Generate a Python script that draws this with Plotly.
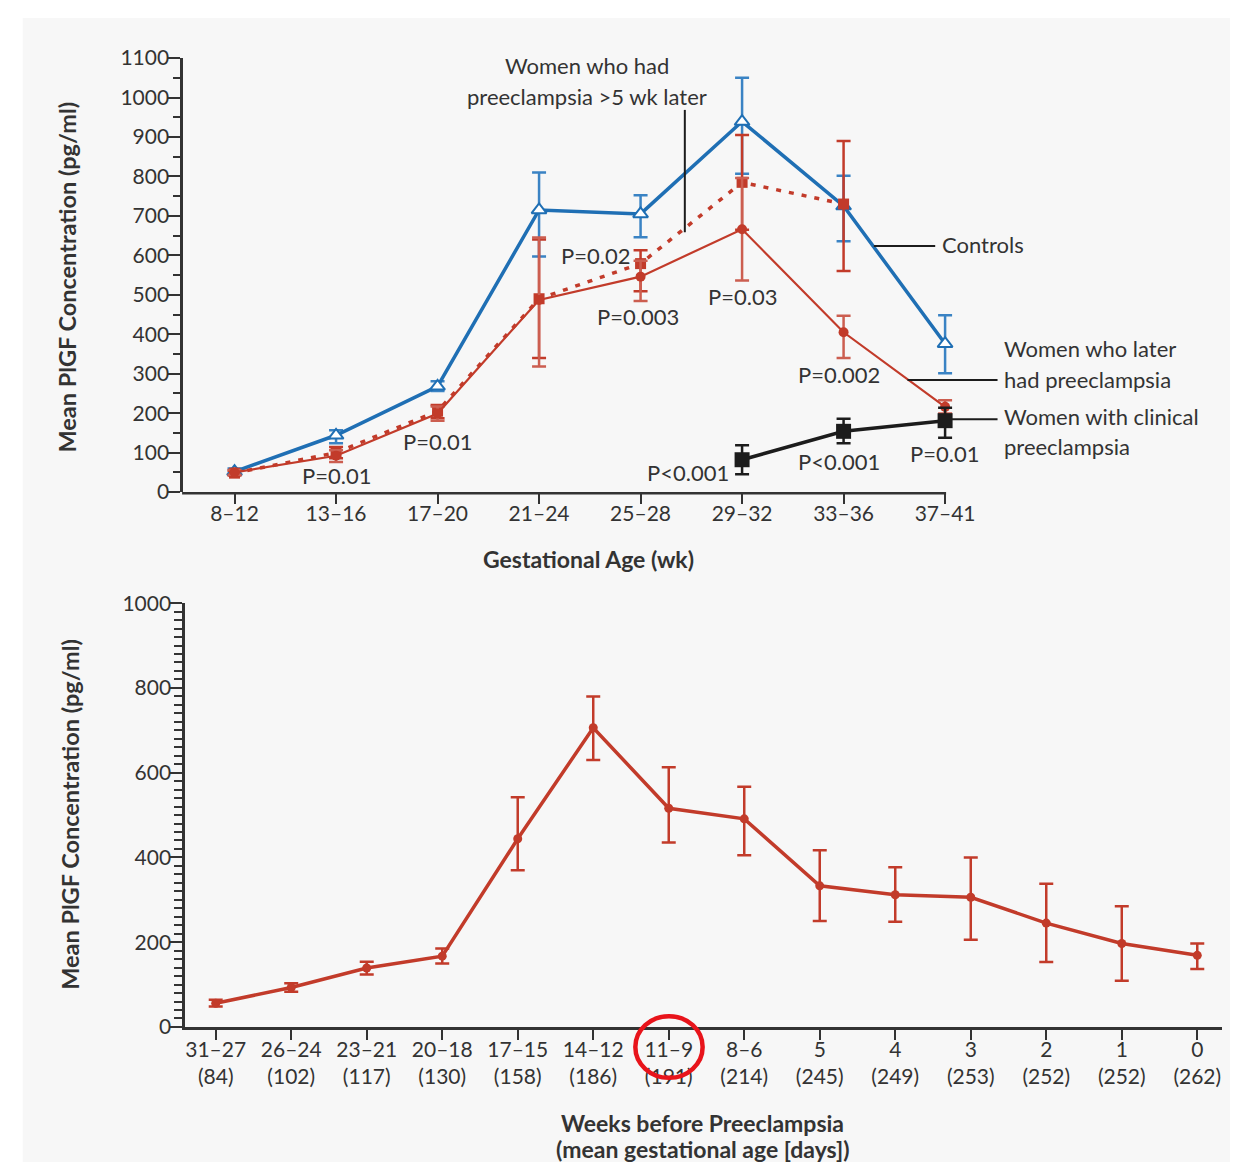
import plotly.graph_objects as go

W, H = 1253, 1173

# ---------------- upper panel: PlGF by gestational-age window ----------------
ga_windows = ["8–12", "13–16", "17–20", "21–24", "25–28", "29–32", "33–36", "37–41"]

controls_mean = [52, 144, 268, 715, 705, 939, 725, 376]
controls_err_hi = [8, 13, 13, 95, 47, 111, 77, 72]
controls_err_lo = [8, 20, 12, 118, 59, 132, 89, 75]

later_pe_mean = [50, 92, 199, 487, 546, 666, 405, 216]
later_pe_err_hi = [6, 14, 18, 158, 40, 130, 42, 17]
later_pe_err_lo = [6, 16, 18, 169, 62, 130, 65, 17]

pe_5wk_mean = [48, 100, 205, 490, 579, 785, 730]
pe_5wk_err_hi = [6, 14, 16, 150, 34, 120, 160]
pe_5wk_err_lo = [6, 14, 18, 150, 70, 120, 170]

clinical_pe_x = ["29–32", "33–36", "37–41"]
clinical_pe_mean = [82, 154, 181]
clinical_pe_err_hi = [37, 32, 33]
clinical_pe_err_lo = [37, 30, 43]

# ---------------- lower panel: PlGF by weeks before preeclampsia ----------------
weeks_before = ["31–27", "26–24", "23–21", "20–18", "17–15", "14–12", "11–9",
                "8–6", "5", "4", "3", "2", "1", "0"]
mean_ga_days = [84, 102, 117, 130, 158, 186, 191, 214, 245, 249, 253, 252, 252, 262]
weeks_mean = [56, 93, 139, 167, 444, 706, 516, 491, 333, 312, 306, 245, 197, 169]
weeks_err_hi = [8, 10, 15, 18, 98, 74, 97, 76, 84, 65, 94, 93, 88, 28]
weeks_err_lo = [8, 10, 15, 17, 74, 76, 81, 86, 83, 64, 100, 92, 88, 32]

BLUE = "#1f6fb4"
RED = "#c23b2a"
BLACK = "#1c1c1c"
TEXT = "#333333"
FONT = "Lato"


def px(x):
    return x / W


def py(y):
    return 1 - y / H


fig = go.Figure()

idx = {lab: i for i, lab in enumerate(ga_windows)}

# controls
fig.add_trace(go.Scatter(
    x=[idx[g] for g in ga_windows], y=controls_mean, mode="lines+markers",
    line=dict(color=BLUE, width=3.5),
    marker=dict(symbol="triangle-up", size=13, color="white", line=dict(color=BLUE, width=2)),
    error_y=dict(type="data", array=controls_err_hi, arrayminus=controls_err_lo,
                 color="#3a83c4", thickness=2.5, width=7),
    cliponaxis=False, xaxis="x", yaxis="y", showlegend=False))

# women who had preeclampsia >5 wk later (dotted)
fig.add_trace(go.Scatter(
    x=[idx[g] for g in ga_windows[:len(pe_5wk_mean)]], y=pe_5wk_mean, mode="lines+markers",
    line=dict(color=RED, width=3.5, dash="5px,8px"),
    marker=dict(symbol="square", size=11, color=RED),
    error_y=dict(type="data", array=pe_5wk_err_hi, arrayminus=pe_5wk_err_lo,
                 color=RED, thickness=2.5, width=7),
    cliponaxis=False, xaxis="x", yaxis="y", showlegend=False))

# women who later had preeclampsia
fig.add_trace(go.Scatter(
    x=[idx[g] for g in ga_windows], y=later_pe_mean, mode="lines+markers",
    line=dict(color=RED, width=2.2),
    marker=dict(symbol="circle", size=10, color=RED),
    error_y=dict(type="data", array=later_pe_err_hi, arrayminus=later_pe_err_lo,
                 color="#cc5e50", thickness=2.5, width=7),
    cliponaxis=False, xaxis="x", yaxis="y", showlegend=False))

# women with clinical preeclampsia
fig.add_trace(go.Scatter(
    x=[idx[g] for g in clinical_pe_x], y=clinical_pe_mean, mode="lines+markers",
    line=dict(color=BLACK, width=3.5),
    marker=dict(symbol="square", size=15, color=BLACK),
    error_y=dict(type="data", array=clinical_pe_err_hi, arrayminus=clinical_pe_err_lo,
                 color=BLACK, thickness=2.5, width=7),
    cliponaxis=False, xaxis="x", yaxis="y", showlegend=False))

# lower panel series
fig.add_trace(go.Scatter(
    x=list(range(len(weeks_before))), y=weeks_mean, mode="lines+markers",
    line=dict(color=RED, width=3.5),
    marker=dict(symbol="circle", size=9, color=RED),
    error_y=dict(type="data", array=weeks_err_hi, arrayminus=weeks_err_lo,
                 color=RED, thickness=2.5, width=7),
    cliponaxis=False, xaxis="x2", yaxis="y2", showlegend=False))

axis_common = dict(
    linecolor=TEXT, linewidth=2.5, showgrid=False, zeroline=False,
    ticks="outside", tickcolor=TEXT, tickwidth=2,
    tickfont=dict(family=FONT, size=21, color=TEXT),
)

# upper x axis: the plotting area runs a little past the last window so the
# end-point error bars are not cut; its base line stops at the last tick
TOP_X0, TOP_XLAST, TOP_X1 = 185, 955, 972
top_step = (TOP_XLAST - TOP_X0) / 7.507

fig.update_layout(
    width=W, height=H,
    margin=dict(l=0, r=0, t=0, b=0),
    paper_bgcolor="white",
    plot_bgcolor="rgba(0,0,0,0)",
    font=dict(family=FONT, color=TEXT),
    xaxis=dict(
        **axis_common, showline=False,
        domain=[px(TOP_X0), px(TOP_X1)], anchor="y",
        range=[-0.507, 7 + (TOP_X1 - TOP_XLAST) / top_step],
        tickvals=list(range(len(ga_windows))), ticktext=ga_windows,
        ticklen=11, ticklabelstandoff=-8,
    ),
    yaxis=dict(
        **axis_common, showline=True,
        domain=[py(488.5), py(45)], anchor="x",
        range=[0, 1100], dtick=100, ticklen=12, ticklabelstandoff=-5,
        minor=dict(dtick=50, ticks="outside", ticklen=7, tickcolor=TEXT, tickwidth=2),
    ),
    xaxis2=dict(
        **axis_common, showline=True,
        domain=[px(187), px(1235)], anchor="y2",
        range=[-0.406, 13.33], tickvals=list(range(len(weeks_before))),
        ticktext=[f"{w}<br>({d})" for w, d in zip(weeks_before, mean_ga_days)],
        ticklen=10, ticklabelstandoff=-8,
    ),
    yaxis2=dict(
        **axis_common, showline=True,
        domain=[py(1035), py(602)], anchor="x2",
        range=[0, 1000], dtick=200, ticklen=12, ticklabelstandoff=-5,
        minor=dict(dtick=20, ticks="outside", ticklen=8, tickcolor=TEXT, tickwidth=2),
    ),
)

shapes = [
    # light panel behind both charts
    dict(type="rect", xref="paper", yref="paper", x0=px(23), x1=px(1243), y0=py(1173), y1=py(4),
         fillcolor="#f7f7f7", line=dict(width=0), layer="below"),
    # upper x-axis base line
    dict(type="line", xref="paper", yref="paper", x0=px(TOP_X0 - 1), x1=px(TOP_XLAST + 1),
         y0=py(489.7), y1=py(489.7), line=dict(color=TEXT, width=2.5)),
    # leader lines for the series labels
    dict(type="line", xref="paper", yref="paper", x0=px(692), x1=px(692), y0=py(98), y1=py(223),
         line=dict(color=BLACK, width=2)),
    dict(type="line", xref="paper", yref="paper", x0=px(883), x1=px(945), y0=py(237), y1=py(237),
         line=dict(color=BLACK, width=2)),
    dict(type="line", xref="paper", yref="paper", x0=px(917), x1=px(1008), y0=py(374), y1=py(374),
         line=dict(color=BLACK, width=2)),
    dict(type="line", xref="paper", yref="paper", x0=px(962), x1=px(1008), y0=py(414), y1=py(414),
         line=dict(color=BLACK, width=2)),
    # red ring around the 11–9 week label
    dict(type="circle", xref="paper", yref="paper", x0=px(642), x1=px(710), y0=py(1087), y1=py(1024),
         line=dict(color="#e8141b", width=4.5)),
]

annotations = []


def note(text, x, y, xanchor="center", size=22, bold=False, textangle=0):
    annotations.append(dict(
        text=f"<b>{text}</b>" if bold else text, x=px(x), y=py(y), xref="paper", yref="paper",
        xanchor=xanchor, yanchor="middle", showarrow=False,
        textangle=textangle, font=dict(family=FONT, size=size, color=TEXT)))


# series labels
note("Women who had", 593, 53)
note("preeclampsia >5 wk later", 593, 84)
note("Controls", 950, 236, xanchor="left")
note("Women who later", 1013, 342, xanchor="left")
note("had preeclampsia", 1013, 373, xanchor="left")
note("Women with clinical", 1013, 411, xanchor="left")
note("preeclampsia", 1013, 442, xanchor="left")

# P values
note("P=0.01", 340, 472)
note("P=0.01", 442, 437)
note("P=0.02", 602, 247)
note("P=0.003", 645, 309)
note("P=0.03", 750, 289)
note("P=0.002", 848, 368)
note("P<0.001", 695, 468)
note("P<0.001", 848, 457)
note("P=0.01", 954, 449)

# axis titles
note("Mean PlGF Concentration (pg/ml)", 68, 269, bold=True, size=23.5, textangle=-90)
note("Gestational Age (wk)", 595, 557, bold=True, size=23)
note("Mean PlGF Concentration (pg/ml)", 70, 818, bold=True, size=23.5, textangle=-90)
note("Weeks before Preeclampsia", 710, 1133, bold=True, size=23)
note("(mean gestational age [days])", 710, 1160, bold=True, size=23)

fig.update_layout(shapes=shapes, annotations=annotations)

fig.write_html("out.html")
